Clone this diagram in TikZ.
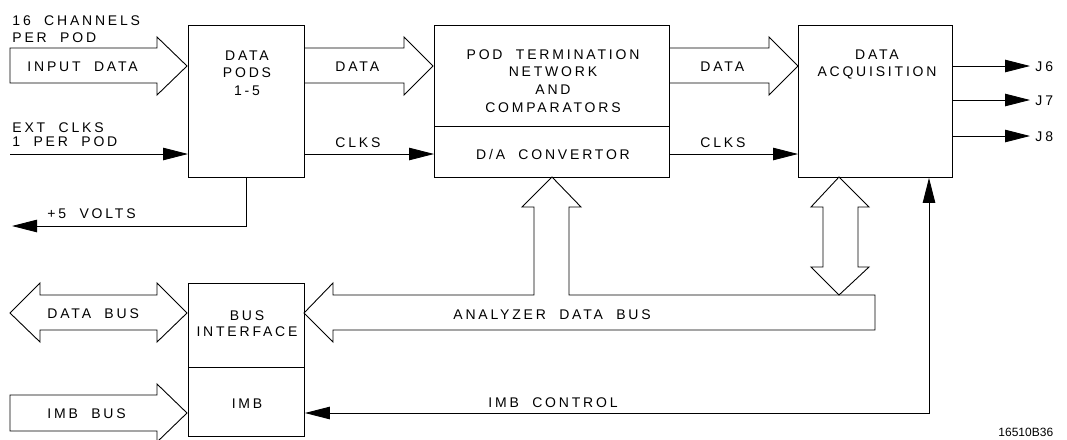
\documentclass[tikz,border=0pt]{standalone}
\usepackage{fontspec}
\setmainfont{Liberation Sans}[LetterSpace=20,WordSpace=2]
\newfontfamily\tagfont{Liberation Sans}
\usetikzlibrary{arrows.meta}
\begin{document}
\begin{tikzpicture}[x=1pt,y=-1pt,line width=0.9pt,
  blk/.style={draw,inner sep=0pt,minimum width=#1},
  lbl/.style={inner sep=0pt,text height=10pt,text depth=0pt,font=\fontsize{14}{17.7}\selectfont},
  mlbl/.style={inner sep=0pt,align=center,anchor=north,font=\fontsize{14}{17.7}\selectfont},
  arr/.style={-{Triangle[length=25pt,width=12.5pt]}},
  darr/.style={{Triangle[length=25pt,width=12.5pt]}-{Triangle[length=25pt,width=12.5pt]}},
  bigarrow/.style={draw,line join=miter}]
\fill[white] (0,0) rectangle (1067,439);
\useasboundingbox (0,0) rectangle (1067,439);

% boxes
\node[blk=116pt,minimum height=152pt,anchor=north west] (pods) at (188,25) {};
\node[blk=235pt,minimum height=101pt,anchor=north west] (potn) at (434,25) {};
\node[blk=235pt,minimum height=51pt,anchor=north west] (dac) at (434,126) {};
\node[blk=154pt,minimum height=152pt,anchor=north west] (acq) at (798,25) {};
\node[blk=116pt,minimum height=84pt,anchor=north west] (busif) at (188,283) {};
\node[blk=116pt,minimum height=69pt,anchor=north west] (imb) at (188,367) {};

% box texts
\node[mlbl] (tpods) at (247,50) {DATA\\PODS\\1-5};
\node[mlbl] (tpotn) at (553,49) {POD TERMINATION\\NETWORK\\AND\\COMPARATORS};
\node[lbl] (tdac) at (553,154) {D/A CONVERTOR};
\node[mlbl] (tacq) at (877,49) {DATA\\ACQUISITION};
\node[mlbl,font=\fontsize{14}{16.3}\selectfont] (tbusif) at (247,310) {BUS\\INTERFACE};
\node[lbl] (timb) at (247,403) {IMB};

% block arrows
\draw[bigarrow] (10,48) -- (157,48) -- (157,37) -- (187,66) -- (157,95) -- (157,83) -- (10,83) -- cycle;
\draw[bigarrow] (304,48) -- (404,48) -- (404,37) -- (433,66) -- (404,95) -- (404,83) -- (304,83);
\draw[bigarrow] (669,48) -- (769,48) -- (769,37) -- (798,66) -- (769,95) -- (769,83) -- (669,83);
\draw[bigarrow] (10,313) -- (40,283) -- (40,295) -- (157,295) -- (157,283) -- (187,313) -- (157,342) -- (157,330) -- (40,330) -- (40,342) -- cycle;
\draw[bigarrow] (304,313) -- (333,283) -- (333,295) -- (534,295) -- (534,207) -- (522,207) -- (552,177) -- (581,207) -- (569,207) -- (569,295) -- (875,295) -- (875,330) -- (333,330) -- (333,342) -- cycle;
\draw[bigarrow] (839,177) -- (869,207) -- (858,207) -- (858,267) -- (869,267) -- (839,295) -- (811,267) -- (823,267) -- (823,207) -- (811,207) -- cycle;
\draw[bigarrow] (10,395) -- (157,395) -- (157,384) -- (187,413) -- (157,442) -- (157,431) -- (10,431) -- cycle;

% thin connectors
\coordinate (extin) at (10,154);
\coordinate (v5) at (12,226);
\coordinate (j6) at (1030,66);
\coordinate (j7) at (1030,100);
\coordinate (j8) at (1030,136);
\coordinate (ctl) at (929,413);
\draw[arr] (extin) -- (extin -| pods.west);
\draw[arr] (pods.east |- extin) -- (dac.west |- extin);
\draw[arr] (dac.east |- extin) -- (acq.west |- extin);
\draw[arr] (pods.south) -- (pods.south |- v5) -- (v5);
\draw[arr] (acq.east |- j6) -- (j6);
\draw[arr] (acq.east |- j7) -- (j7);
\draw[arr] (acq.east |- j8) -- (j8);
\draw[darr] (imb.east |- ctl) -- (ctl) -- (ctl |- acq.south);

% labels
\node[lbl,anchor=west] (l16) at (12,20) {16 CHANNELS};
\node[lbl,anchor=west] (lper) at (12,37.5) {PER POD};
\node[lbl,anchor=west] (lin) at (27,66) {INPUT DATA};
\node[lbl,anchor=west] (ldata1) at (335,66) {DATA};
\node[lbl,anchor=west] (lext) at (12,127) {EXT CLKS};
\node[lbl,anchor=west] (l1per) at (12,141.5) {1 PER POD};
\node[lbl,anchor=west] (lclks1) at (335,142.5) {CLKS};
\node[lbl,anchor=west] (l5v) at (47,213) {+5 VOLTS};
\node[lbl,anchor=west] (ldata2) at (700,66) {DATA};
\node[lbl,anchor=west] (lclks2) at (700,142.5) {CLKS};
\node[lbl,anchor=west] (lj6) at (1035,66) {J6};
\node[lbl,anchor=west] (lj7) at (1035,100) {J7};
\node[lbl,anchor=west] (lj8) at (1035,136) {J8};
\node[lbl,anchor=west] (ldbus) at (47,313) {DATA BUS};
\node[lbl,anchor=west] (limbbus) at (47,413) {IMB BUS};
\node[lbl,anchor=west] (ladb) at (453,314) {ANALYZER DATA BUS};
\node[lbl,anchor=west] (limbc) at (488,402) {IMB CONTROL};
\node[inner sep=0pt,anchor=west,font=\tagfont\fontsize{12}{14}\selectfont] (ltag) at (998,432) {16510B36};
\end{tikzpicture}
\end{document}
